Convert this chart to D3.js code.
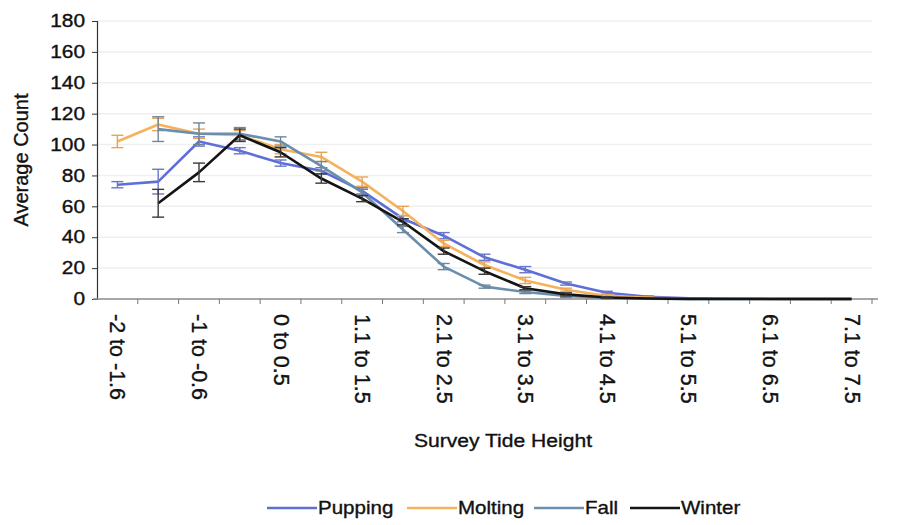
<!DOCTYPE html>
<html>
<head>
<meta charset="utf-8">
<script src="https://cdn.jsdelivr.net/npm/d3@7"></script>
<style>
  body { margin: 0; background: #fff; }
  text { font-family: "Liberation Sans", Arial, sans-serif; fill: #111; stroke: #111; stroke-width: 0.35px; }
</style>
</head>
<body>
<svg id="chart" width="908" height="525"></svg>
<script>
const categories = ['-2 to -1.6', '-1.5 to -1.1', '-1 to -0.6', '-0.5 to -0.1', '0 to 0.5',
    '0.6 to 1', '1.1 to 1.5', '1.6 to 2', '2.1 to 2.5', '2.6 to 3', '3.1 to 3.5',
    '3.6 to 4', '4.1 to 4.5', '4.6 to 5', '5.1 to 5.5', '5.6 to 6', '6.1 to 6.5',
    '6.6 to 7', '7.1 to 7.5'];
// only every other category gets a label
const shownLabels = ['-2 to -1.6', '-1 to -0.6', '0 to 0.5', '1.1 to 1.5', '2.1 to 2.5',
    '3.1 to 3.5', '4.1 to 4.5', '5.1 to 5.5', '6.1 to 6.5', '7.1 to 7.5'];
const yTicks = [0, 20, 40, 60, 80, 100, 120, 140, 160, 180];

const seriesNames = ['Pupping', 'Molting', 'Fall', 'Winter'];
const pupping = [74, 76, 102, 96, 88, 83, 70, 52, 41, 27, 19, 10, 4, 1.5, 0.5, 0.3, 0.2, 0.1, 0.1];
const molting = [102, 113, 107, 106, 97, 92, 76, 57, 36, 22, 12, 6, 2, 0.8, 0.3, 0.2, 0.1, 0.1, 0.1];
const fall = [null, 110, 107, 107, 102, 86, 69, 45, 21, 8, 4.5, 2, 0.6, 0.2, 0.1, 0.1, 0, 0, 0];
const winter = [null, 62, 82, 106, 95, 78, 65, 50, 31, 18, 7, 3, 1, 0.3, 0.1, 0, 0, 0, 0];

const puppingErr = [2, 8, 3, 2, 2, 2, 2, 2, 2, 2, 2, 1, 1, 0.5, 0.3, 0, 0, 0, 0];
const moltingErr = [4, 4, 3, 3, 3, 3, 3, 3, 2, 2, 2, 1, 1, 0.5, 0.3, 0, 0, 0, 0];
const fallErr = [null, 8, 7, 4, 3, 3, 2, 2, 2, 1, 1, 1, 0.5, 0.3, 0, 0, 0, 0, 0];
const winterErr = [null, 9, 6, 4, 3, 3, 2, 2, 2, 2, 1, 1, 0.5, 0.3, 0, 0, 0, 0, 0];

const colors = ['#5f6fd8', '#f5b25c', '#6a8eae', '#141414'];
const errColors = ['#6b76c8', '#e8a452', '#6f8798', '#3a3a3a'];

const series = [
    {name: seriesNames[0], values: pupping, err: puppingErr},
    {name: seriesNames[1], values: molting, err: moltingErr},
    {name: seriesNames[2], values: fall, err: fallErr},
    {name: seriesNames[3], values: winter, err: winterErr}
];

const svg = d3.select('#chart');
const plotLeft = 97, plotRight = 872, plotTop = 21, plotBottom = 299;

const x = d3.scaleBand().domain(categories).range([plotLeft, plotRight]);
const y = d3.scaleLinear().domain([0, 180]).range([plotBottom, plotTop]);
const cx = c => x(c) + x.bandwidth() / 2;

// faint gridlines
svg.append('g')
    .selectAll('line')
    .data(yTicks.slice(1))
    .join('line')
    .attr('x1', plotLeft + 1)
    .attr('x2', plotRight)
    .attr('y1', d => y(d))
    .attr('y2', d => y(d))
    .attr('stroke', '#efefef')
    .attr('stroke-width', 1.5);

// y axis
const yAxis = svg.append('g')
    .attr('transform', `translate(${plotLeft},0)`)
    .call(d3.axisLeft(y).tickValues(yTicks).tickSize(5).tickPadding(7));
yAxis.select('.domain').attr('stroke', '#333').attr('stroke-width', 1.2);
yAxis.selectAll('.tick line').attr('stroke', '#333');
yAxis.selectAll('.tick text')
    .attr('font-size', 18)
    .attr('fill', '#111')
    .attr('transform', 'scale(1.16,1)')
    .attr('x', -12 / 1.16);

// x axis: tick marks between categories
const xg = svg.append('g');
xg.append('line')
    .attr('x1', plotLeft - 4)
    .attr('x2', plotRight + 6)
    .attr('y1', plotBottom)
    .attr('y2', plotBottom)
    .attr('stroke', '#8a8a8a')
    .attr('stroke-width', 1.5);
xg.selectAll('line.tk')
    .data(categories)
    .join('line')
    .attr('class', 'tk')
    .attr('x1', d => x(d) + x.bandwidth())
    .attr('x2', d => x(d) + x.bandwidth())
    .attr('y1', plotBottom)
    .attr('y2', plotBottom + 5)
    .attr('stroke', '#777');
xg.selectAll('text')
    .data(shownLabels)
    .join('text')
    .attr('transform', d => `translate(${cx(d) - 7},${plotBottom + 15}) rotate(90)`)
    .attr('font-size', 21.5)
    .attr('text-anchor', 'start')
    .text(d => d);

// lines
const line = d3.line()
    .defined(d => d.v != null)
    .x(d => cx(d.c))
    .y(d => y(d.v));

series.forEach((s, i) => {
    const pts = categories.map((c, j) => ({c: c, v: s.values[j], e: s.err[j]}));
    const g = svg.append('g');
    g.append('path')
        .datum(pts)
        .attr('d', line)
        .attr('fill', 'none')
        .attr('stroke', colors[i])
        .attr('stroke-width', 2.6)
        .attr('stroke-linejoin', 'round');
    const eb = g.selectAll('g.eb')
        .data(pts.filter(d => d.v != null && d.e > 0.4))
        .join('g')
        .attr('class', 'eb')
        .attr('stroke', errColors[i])
        .attr('stroke-width', 1.4);
    eb.append('line')
        .attr('x1', d => cx(d.c)).attr('x2', d => cx(d.c))
        .attr('y1', d => y(d.v + d.e)).attr('y2', d => y(d.v - d.e));
    eb.append('line')
        .attr('x1', d => cx(d.c) - 6).attr('x2', d => cx(d.c) + 6)
        .attr('y1', d => y(d.v + d.e)).attr('y2', d => y(d.v + d.e));
    eb.append('line')
        .attr('x1', d => cx(d.c) - 6).attr('x2', d => cx(d.c) + 6)
        .attr('y1', d => y(d.v - d.e)).attr('y2', d => y(d.v - d.e));
});

// axis titles
svg.append('text')
    .attr('transform', 'translate(28,160) rotate(-90)')
    .attr('text-anchor', 'middle')
    .attr('font-size', 20)
    .text('Average Count');
svg.append('text')
    .attr('transform', 'translate(503,447) scale(1.14,1)')
    .attr('text-anchor', 'middle')
    .attr('font-size', 18.5)
    .text('Survey Tide Height');

// legend
const legendX = [267, 407, 534, 630];
const lg = svg.append('g');
series.forEach((s, i) => {
    lg.append('line')
        .attr('x1', legendX[i]).attr('x2', legendX[i] + 50)
        .attr('y1', 508).attr('y2', 508)
        .attr('stroke', colors[i])
        .attr('stroke-width', 2.6);
    lg.append('text')
        .attr('transform', `translate(${legendX[i] + 51},514) scale(1.14,1)`)
        .attr('font-size', 18)
        .text(s.name);
});
</script>
</body>
</html>
